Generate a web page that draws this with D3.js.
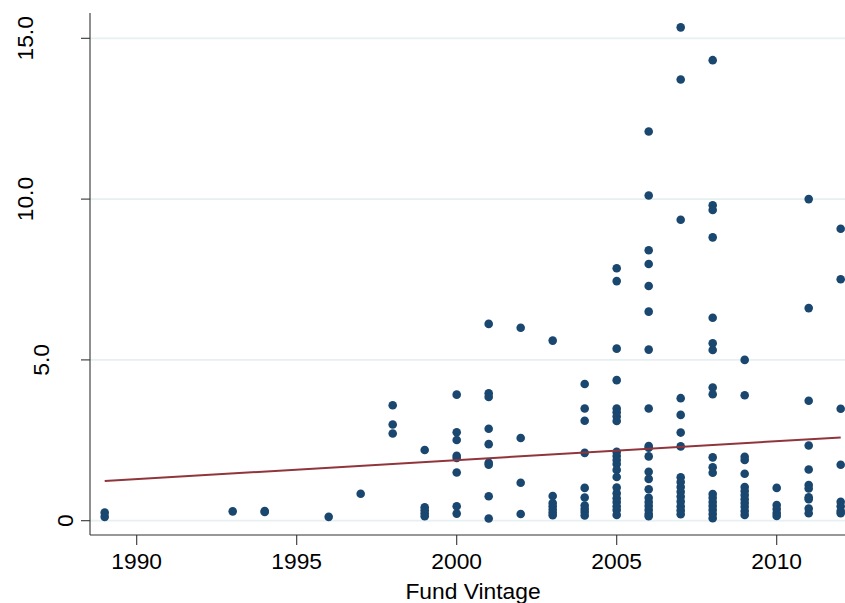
<!DOCTYPE html>
<html>
<head>
<meta charset="utf-8">
<script src="https://cdn.jsdelivr.net/npm/d3@7"></script>
<style>
  html, body { margin: 0; padding: 0; background: #fff; }
  text { font-family: "Liberation Sans", Arial, Helvetica, sans-serif; fill: #000; }
</style>
</head>
<body>
<svg id="chart" width="845" height="603"></svg>
<script>
// ---- data ----
const vintages = [1989, 1993, 1994, 1996, 1997, 1998, 1999, 2000, 2001, 2002, 2003, 2004, 2005, 2006, 2007, 2008, 2009, 2010, 2011, 2012];
const v1989 = [0.25, 0.12];
const v1993 = [0.29];
const v1994 = [0.30, 0.27];
const v1996 = [0.12];
const v1997 = [0.84];
const v1998 = [3.59, 2.99, 2.71];
const v1999 = [2.20, 0.42, 0.32, 0.22, 0.14];
const v2000 = [3.92, 2.75, 2.51, 2.02, 1.95, 1.50, 0.45, 0.22];
const v2001 = [6.12, 3.96, 3.85, 2.86, 2.38, 1.80, 1.74, 0.76, 0.07];
const v2002 = [6.00, 2.57, 1.18, 0.21];
const v2003 = [5.60, 0.77, 0.55, 0.45, 0.35, 0.25, 0.17];
const v2004 = [4.25, 3.49, 3.11, 2.11, 1.02, 0.72, 0.47, 0.36, 0.27, 0.16];
const v2005 = [7.85, 7.45, 5.35, 4.37, 3.49, 3.37, 3.24, 3.10, 2.14, 2.01, 1.89, 1.76, 1.58, 1.36, 1.03, 0.85, 0.70, 0.58, 0.45, 0.33, 0.18];
const v2006 = [12.10, 10.11, 8.41, 7.98, 7.30, 6.50, 5.32, 3.49, 2.32, 2.27, 2.00, 1.52, 1.30, 0.98, 0.71, 0.58, 0.46, 0.33, 0.21, 0.14];
const v2007 = [15.34, 13.72, 9.36, 3.81, 3.29, 2.74, 2.31, 1.35, 1.20, 1.05, 0.90, 0.75, 0.60, 0.45, 0.32, 0.20];
const v2008 = [14.32, 9.81, 9.66, 8.81, 6.31, 5.52, 5.31, 4.14, 3.93, 1.97, 1.66, 1.49, 0.83, 0.71, 0.58, 0.46, 0.33, 0.21, 0.08];
const v2009 = [5.00, 3.90, 1.99, 1.89, 1.46, 1.05, 0.92, 0.80, 0.67, 0.55, 0.43, 0.30, 0.18];
const v2010 = [1.02, 0.49, 0.36, 0.24, 0.15];
const v2011 = [10.00, 6.61, 3.73, 2.34, 1.59, 1.11, 1.00, 0.73, 0.67, 0.38, 0.23];
const v2012 = [9.08, 7.51, 3.48, 1.74, 0.59, 0.45, 0.30, 0.23];
const seriesByVintage = [v1989, v1993, v1994, v1996, v1997, v1998, v1999, v2000, v2001, v2002, v2003, v2004, v2005, v2006, v2007, v2008, v2009, v2010, v2011, v2012];

// fitted line endpoints
const fitX = [1989, 2012];
const fitY = [1.235, 2.59];

const xTicks = [1990, 1995, 2000, 2005, 2010];
const yTicks = [0, 5, 10, 15];
const yTickLabels = ["0", "5.0", "10.0", "15.0"];
const xTitle = "Fund Vintage";

// ---- layout ----
const svg = d3.select("#chart");
const plotLeft = 90, plotRight = 845, plotTop = 13, plotBottom = 535;
const fs = 22.8;

const x = d3.scaleLinear().domain([1990, 2010]).range([136.7, 776.7]);
const y = d3.scaleLinear().domain([0, 15]).range([520.7, 38.3]);

const points = [];
vintages.forEach((v, i) => seriesByVintage[i].forEach(val => points.push({ v, val })));

// gridlines
svg.append("g").selectAll("line").data(yTicks).join("line")
  .attr("x1", plotLeft).attr("x2", plotRight)
  .attr("y1", d => y(d)).attr("y2", d => y(d))
  .attr("stroke", "#e6eff2").attr("stroke-width", 1.8);

// y axis
const yAxis = svg.append("g").attr("transform", `translate(${plotLeft},0)`);
yAxis.append("line").attr("x1", 0).attr("x2", 0).attr("y1", plotTop).attr("y2", plotBottom)
  .attr("stroke", "#333").attr("stroke-width", 1.1);
yAxis.selectAll("line.tick").data(yTicks).join("line").attr("class", "tick")
  .attr("x1", -9).attr("x2", 0).attr("y1", d => y(d)).attr("y2", d => y(d))
  .attr("stroke", "#333").attr("stroke-width", 1.1);

const yl = svg.append("g").selectAll("text").data(yTicks).join("text")
  .attr("font-size", fs)
  .attr("text-anchor", "middle")
  .text((d, i) => yTickLabels[i]);
yl.each(function(d) {
  const w = this.getComputedTextLength() * 22 / fs;
  const bx = 88.4 - 1.298 * w;
  d3.select(this).attr("transform", `translate(${bx},${y(d)}) rotate(-90)`);
});

// x axis
const xAxis = svg.append("g").attr("transform", `translate(0,${plotBottom})`);
xAxis.append("line").attr("x1", plotLeft).attr("x2", plotRight).attr("y1", 0).attr("y2", 0)
  .attr("stroke", "#333").attr("stroke-width", 1.1);
xAxis.selectAll("line.tick").data(xTicks).join("line").attr("class", "tick")
  .attr("x1", d => x(d)).attr("x2", d => x(d)).attr("y1", 0).attr("y2", 10)
  .attr("stroke", "#333").attr("stroke-width", 1.1);
xAxis.selectAll("text").data(xTicks).join("text")
  .attr("x", d => x(d)).attr("y", 34)
  .attr("text-anchor", "middle").attr("font-size", fs)
  .text(d => d);

svg.append("text").attr("x", 473).attr("y", 598.5)
  .attr("text-anchor", "middle").attr("font-size", fs).text(xTitle);

// scatter
svg.append("g").selectAll("circle").data(points).join("circle")
  .attr("cx", d => x(d.v)).attr("cy", d => y(d.val)).attr("r", 4.3)
  .attr("fill", "#1a476f");

// fitted line
svg.append("path")
  .datum(fitX.map((v, i) => [v, fitY[i]]))
  .attr("d", d3.line().x(d => x(d[0])).y(d => y(d[1])))
  .attr("fill", "none").attr("stroke", "#90353b").attr("stroke-width", 2);
</script>
</body>
</html>
